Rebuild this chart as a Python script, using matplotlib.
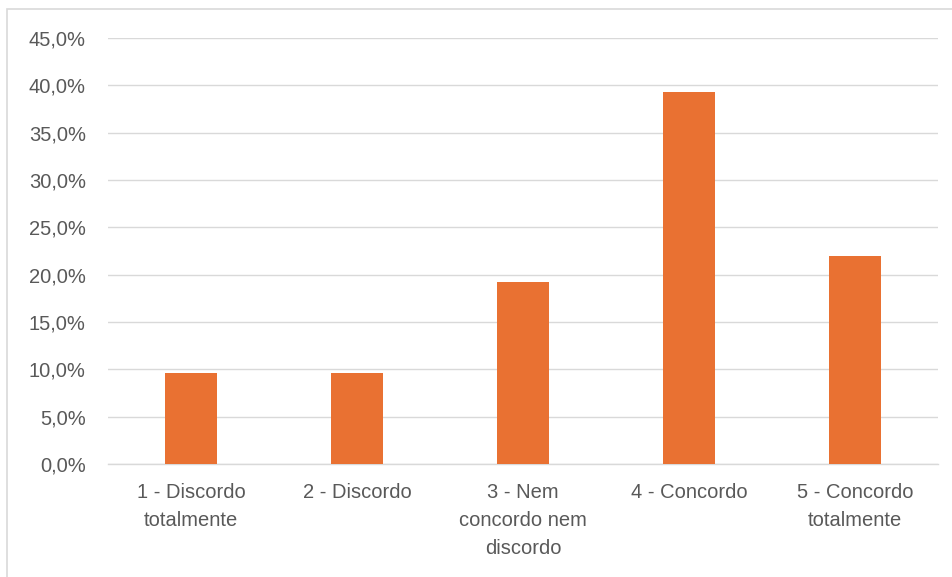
import matplotlib.pyplot as plt
from matplotlib.patches import Rectangle
from matplotlib.ticker import FuncFormatter, MultipleLocator

CATEGORIES = [
    "1 - Discordo\ntotalmente",
    "2 - Discordo",
    "3 - Nem\nconcordo nem\ndiscordo",
    "4 - Concordo",
    "5 - Concordo\ntotalmente",
]
SHARES = [9.6, 9.6, 19.2, 39.3, 22.0]  # percent

BAR_COLOR = "#E97132"
GRID_COLOR = "#D9D9D9"
TEXT_COLOR = "#595959"

plt.rcParams["font.family"] = ["Liberation Sans", "DejaVu Sans"]

fig = plt.figure(figsize=(9.53, 5.77), dpi=100)
ax = fig.add_axes([108 / 953, 1 - 464 / 577, 830 / 953, 426 / 577])

# outer chart frame, clipped by the image edge like the reference
fig.patches.append(Rectangle((7 / 953, -0.1), 1.2, (577 - 9) / 577 + 0.1,
                             transform=fig.transFigure, fill=False,
                             edgecolor=GRID_COLOR, linewidth=1.2))

x = list(range(len(CATEGORIES)))
ax.bar(x, SHARES, width=0.313, color=BAR_COLOR, zorder=3)

ax.set_xlim(-0.5, len(CATEGORIES) - 0.5)
ax.set_ylim(0, 45)
ax.yaxis.set_major_locator(MultipleLocator(5))
ax.yaxis.set_major_formatter(FuncFormatter(lambda v, _: f"{v:.1f}%".replace(".", ",")))
ax.grid(axis="y", color=GRID_COLOR, linewidth=1.0, zorder=0)

for s in ["top", "right", "left"]:
    ax.spines[s].set_visible(False)
ax.spines["bottom"].set_color(GRID_COLOR)
ax.spines["bottom"].set_linewidth(1.0)

ax.set_xticks(x)
ax.set_xticklabels(CATEGORIES, linespacing=1.6)
ax.tick_params(axis="both", length=0, labelsize=14.5, colors=TEXT_COLOR)
ax.tick_params(axis="y", pad=16)
ax.tick_params(axis="x", pad=14)

fig.savefig("out.png", dpi=100)
